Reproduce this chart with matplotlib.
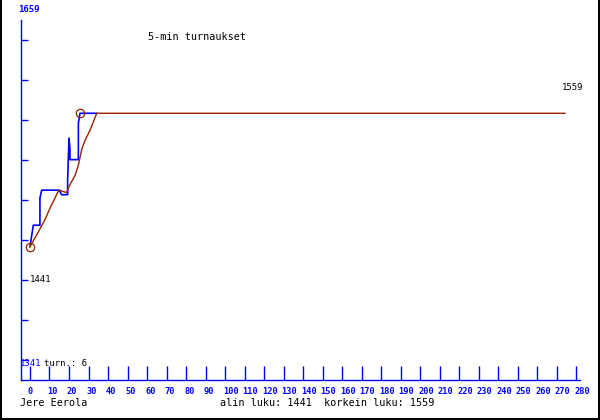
import numpy as np
import matplotlib
matplotlib.use('Agg')
import matplotlib.pyplot as plt
from matplotlib.lines import Line2D
from matplotlib.transforms import ScaledTranslation

# Rating history
blue_games = [0, 1.7, 5.1, 5.1, 6.0, 15.0, 16.2, 19.3, 19.3, 20.0, 20.5, 20.5, 24.8, 24.8, 25.6, 34.2]
blue_rating = [1441, 1460, 1460, 1484, 1491, 1491, 1487, 1487, 1500, 1537, 1527, 1518, 1518, 1550, 1559, 1559]

trend_games = [0, 4.25, 7.7, 10.25, 12.8, 14.5, 15.4, 16.4, 18.8, 20.5, 23.1, 24.8, 26.5, 28.2, 30.8, 34.2, 274.2]
trend_rating = [1441, 1454, 1465, 1475, 1484, 1490, 1491, 1490, 1489, 1496, 1504, 1513, 1527, 1535, 1544, 1559, 1559]

marker_games = [0, 25.6]
marker_rating = [1441, 1559]

x_ticks = list(range(0, 281, 10))
min_rating = 1441
max_rating = 1559
top_label = '1659'
bottom_label = '1341'
tournaments = 6

BLUE = '#0000ff'
BROWN = '#992200'
mono = 'DejaVu Sans Mono'

fig = plt.figure(figsize=(6, 4.2), dpi=100)
ax = fig.add_axes([21 / 600, 1 - 380 / 420, 559 / 600, 360 / 420])

ax.plot(blue_games, blue_rating, color=BLUE, lw=1.2)
ax.plot(trend_games, trend_rating, color=BROWN, lw=1.0)
ax.plot(marker_games, marker_rating, 'o', mfc='none', mec=BROWN, ms=6, mew=0.9)

ax.set_xlim(-4.6, 281.9)
ylo, yhi = 1323.1, 1641.5
ax.set_ylim(ylo, yhi)

ax.set_xticks(x_ticks)
ax.set_xticklabels([str(t) for t in x_ticks], fontsize=6.2, family=mono, weight='bold', color=BLUE)
ax.tick_params(axis='x', direction='in', length=10, width=1, color=BLUE, pad=5)
offset = ScaledTranslation(-2 / 100, 0, fig.dpi_scale_trans)
for lab in ax.get_xticklabels():
    lab.set_ha('left')
    lab.set_transform(lab.get_transform() + offset)

ax.set_yticks(ylo + (yhi - ylo) * (np.arange(9) + 0.5) / 9)
ax.set_yticklabels([])
ax.tick_params(axis='y', direction='in', length=5, width=1, color=BLUE)

for s in ['top', 'right']:
    ax.spines[s].set_visible(False)
for s in ['left', 'bottom']:
    ax.spines[s].set_color(BLUE)
    ax.spines[s].set_linewidth(1)

def px(x, y):
    return x / 600, 1 - y / 420

fig.text(*px(29, 9), top_label, color=BLUE, family=mono, weight='bold', fontsize=6.5, ha='center', va='center')
fig.text(*px(148, 37), '5-min turnaukset', color='black', family=mono, fontsize=7.3, ha='left', va='center')
fig.text(*px(562, 87), str(max_rating), color='black', family=mono, fontsize=6.5, ha='left', va='center')
fig.text(*px(30, 280), str(min_rating), color='black', family=mono, fontsize=6.5, ha='left', va='center')
fig.text(*px(20, 363), bottom_label, color=BLUE, family=mono, fontsize=6.5, ha='left', va='center')
fig.text(*px(44, 363), 'turn.: %d' % tournaments, color='black', family=mono, fontsize=6.5, ha='left', va='center')
fig.text(*px(20, 403), 'Jere Eerola', color='black', family=mono, fontsize=7.3, ha='left', va='center')
fig.text(*px(220, 403), 'alin luku: %d  korkein luku: %d' % (min_rating, max_rating),
         color='black', family=mono, fontsize=7.3, ha='left', va='center')

# outer frame (left, right, bottom)
fig.add_artist(Line2D([0.002, 0.002], [0, 1], color='black', lw=1.5, transform=fig.transFigure))
fig.add_artist(Line2D([0.998, 0.998], [0, 1], color='black', lw=1.5, transform=fig.transFigure))
fig.add_artist(Line2D([0, 1], [0.003, 0.003], color='black', lw=1.5, transform=fig.transFigure))

fig.savefig('out.png', dpi=100)
